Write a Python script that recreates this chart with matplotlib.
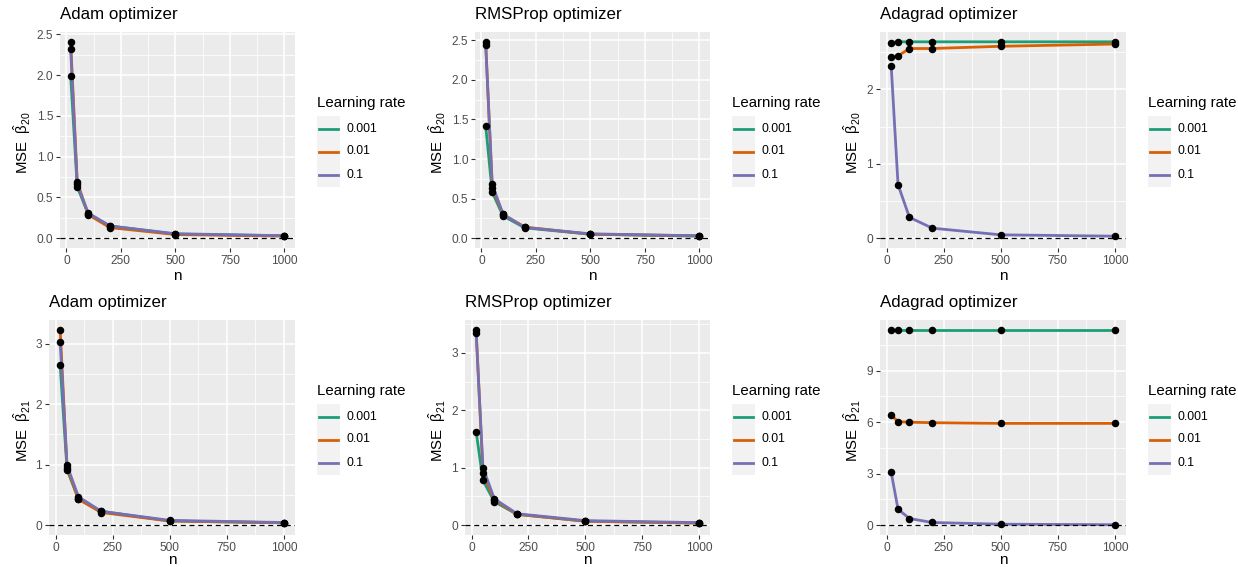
import matplotlib
matplotlib.use("Agg")
import matplotlib.pyplot as plt
from matplotlib.lines import Line2D
from matplotlib.patches import Rectangle

plt.rcParams["font.family"] = ["Liberation Sans", "DejaVu Sans"]
plt.rcParams["mathtext.fontset"] = "custom"
plt.rcParams["mathtext.rm"] = "Liberation Sans"
plt.rcParams["mathtext.it"] = "Liberation Sans"

# ---------------------------------------------------------------------------
# Data
# ---------------------------------------------------------------------------
N_VALUES = [20, 50, 100, 200, 500, 1000]
RATES = ["0.001", "0.01", "0.1"]
COLOURS = ["#1B9E77", "#D95F02", "#7570B3"]

# one list per learning rate: 0.001, 0.01, 0.1
adam_b20 = [[1.99, 0.63, 0.30, 0.15, 0.050, 0.030],
            [2.41, 0.69, 0.29, 0.13, 0.045, 0.025],
            [2.32, 0.66, 0.31, 0.15, 0.055, 0.030]]
rms_b20 = [[1.42, 0.58, 0.28, 0.130, 0.050, 0.025],
           [2.48, 0.64, 0.30, 0.140, 0.050, 0.030],
           [2.44, 0.68, 0.30, 0.135, 0.055, 0.030]]
ada_b20 = [[2.63, 2.64, 2.64, 2.64, 2.64, 2.64],
           [2.43, 2.45, 2.55, 2.55, 2.58, 2.61],
           [2.32, 0.72, 0.28, 0.135, 0.045, 0.027]]
adam_b21 = [[2.64, 0.92, 0.43, 0.23, 0.07, 0.040],
            [3.23, 0.95, 0.43, 0.21, 0.07, 0.040],
            [3.03, 0.99, 0.47, 0.23, 0.08, 0.045]]
rms_b21 = [[1.63, 0.78, 0.41, 0.19, 0.07, 0.040],
           [3.40, 0.90, 0.44, 0.19, 0.07, 0.035],
           [3.35, 1.00, 0.46, 0.20, 0.08, 0.045]]
ada_b21 = [[11.38, 11.38, 11.38, 11.38, 11.38, 11.38],
           [6.42, 6.03, 6.00, 5.97, 5.93, 5.93],
           [3.09, 0.93, 0.39, 0.16, 0.06, 0.03]]

PANELS = [
    ("Adam optimizer", adam_b20, "20", [0, 0.5, 1.0, 1.5, 2.0, 2.5]),
    ("RMSProp optimizer", rms_b20, "20", [0, 0.5, 1.0, 1.5, 2.0, 2.5]),
    ("Adagrad optimizer", ada_b20, "20", [0, 1, 2]),
    ("Adam optimizer", adam_b21, "21", [0, 1, 2, 3]),
    ("RMSProp optimizer", rms_b21, "21", [0, 1, 2, 3]),
    ("Adagrad optimizer", ada_b21, "21", [0, 3, 6, 9]),
]

# ---------------------------------------------------------------------------
# Layout (pixel boxes of the panels: left, right, top, bottom)
# ---------------------------------------------------------------------------
W, H = 1238, 567
BOXES = [
    (60, 295, 32, 248), (475, 710, 32, 248), (880, 1126, 32, 248),
    (49, 295, 320, 535), (465, 710, 320, 535), (880, 1126, 320, 535),
]
COL_X = [0, 415, 830]

fig = plt.figure(figsize=(W / 100, H / 100), dpi=100)


def fx(px):
    return px / W


def fy(py):
    return 1 - py / H


def fmt_tick(v, ticks):
    if all(float(t).is_integer() for t in ticks):
        return f"{int(v)}"
    return f"{v:.1f}"


for i, (title, series, sub, yticks) in enumerate(PANELS):
    left, right, top, bottom = BOXES[i]
    row, col = divmod(i, 3)
    ax = fig.add_axes([fx(left), fy(bottom), fx(right - left), (bottom - top) / H])
    ax.set_facecolor("#EBEBEB")
    for s in ax.spines.values():
        s.set_visible(False)

    for vals, c in zip(series, COLOURS):
        ax.plot(N_VALUES, vals, color=c, lw=2.0, solid_capstyle="butt", zorder=3)
    for vals in series:
        ax.plot(N_VALUES, vals, "o", color="black", ms=4.4, zorder=4)
    ax.axhline(0, color="black", lw=0.9, ls=(0, (4, 3)), zorder=5)

    # ggplot-like limits
    ymax = max(max(v) for v in series)
    ymin = 0.0
    pad = 0.05 * (ymax - ymin)
    ax.set_ylim(ymin - pad, ymax + pad)
    ax.set_xlim(20 - 49, 1000 + 49)

    xt = [0, 250, 500, 750, 1000]
    ax.set_xticks(xt)
    ax.set_xticklabels([str(v) for v in xt])
    ax.set_xticks([125, 375, 625, 875], minor=True)
    ax.set_yticks(yticks)
    ax.set_yticklabels([fmt_tick(v, yticks) for v in yticks])
    step = yticks[1] - yticks[0]
    minors = [t + step / 2 for t in [yticks[0] - step] + yticks]
    lo, hi = ax.get_ylim()
    ax.set_yticks([m for m in minors if lo < m < hi], minor=True)

    ax.grid(which="major", color="white", lw=1.1, zorder=0)
    ax.grid(which="minor", color="white", lw=0.55, zorder=0)
    ax.set_axisbelow(True)
    ax.tick_params(which="major", length=3, width=0.8, color="#333333",
                   labelsize=8.6, labelcolor="#4D4D4D", pad=2)
    ax.tick_params(which="minor", length=0)

    # titles and labels
    fig.text(fx(left), fy(top - 17), title, fontsize=12.2, ha="left", va="center")
    n_off = 28 if row == 0 else 25
    fig.text(fx((left + right) / 2), fy(bottom + n_off), "n", fontsize=11,
             ha="center", va="center")
    fig.text(fx(COL_X[col] + 22), fy((top + bottom) / 2 + 3),
             "MSE  $\\hat{\\mathrm{\\beta}}_{" + sub + "}$", fontsize=10.8,
             rotation=90, ha="center", va="center")

    # legend
    lx = right + 22
    ty = 103 if row == 0 else 391
    fig.text(fx(lx), fy(ty), "Learning rate", fontsize=10.8, ha="left", va="center")
    box_top = ty + 13
    fig.patches.append(Rectangle((fx(lx), fy(box_top + 71)), fx(23), 71 / H,
                                 transform=fig.transFigure, facecolor="#F2F2F2",
                                 edgecolor="none"))
    for k, (lab, c) in enumerate(zip(RATES, COLOURS)):
        yy = box_top + 12.5 + 23 * k
        fig.add_artist(Line2D([fx(lx + 2), fx(lx + 21)], [fy(yy), fy(yy)],
                              color=c, lw=2.0, transform=fig.transFigure))
        fig.text(fx(lx + 30), fy(yy), lab, fontsize=8.8, ha="left", va="center")

fig.savefig("out.png", dpi=100)
